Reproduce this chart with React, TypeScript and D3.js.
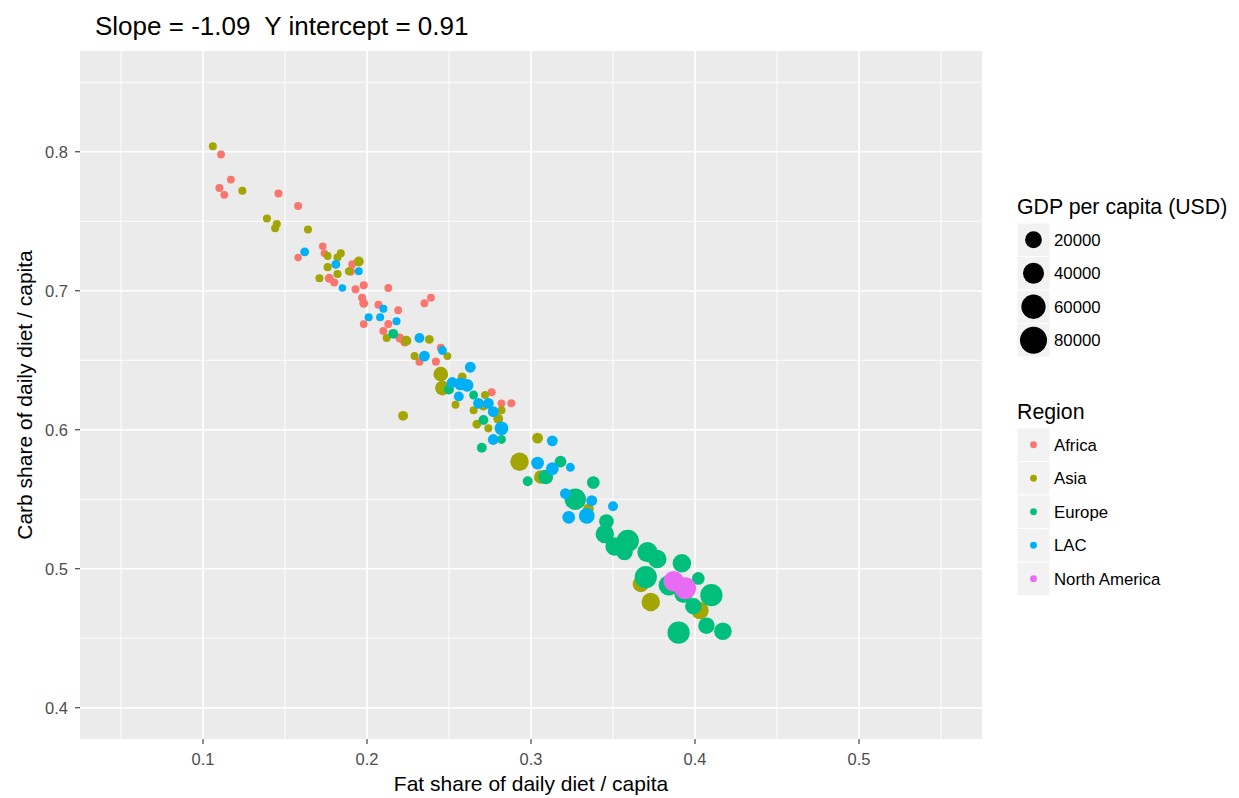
import React from "react";
import * as d3 from "d3";

// values
const africaFat = [0.111, 0.117, 0.110, 0.113, 0.146, 0.158, 0.158, 0.173, 0.174, 0.177, 0.180, 0.191, 0.190, 0.193, 0.198, 0.213, 0.197, 0.198, 0.207, 0.219, 0.235, 0.239, 0.198, 0.213, 0.210, 0.220, 0.223, 0.245, 0.232, 0.242, 0.276, 0.282, 0.288];
const africaCarb = [0.798, 0.780, 0.774, 0.769, 0.770, 0.761, 0.724, 0.732, 0.727, 0.709, 0.706, 0.719, 0.714, 0.701, 0.704, 0.702, 0.695, 0.691, 0.690, 0.686, 0.691, 0.695, 0.676, 0.676, 0.671, 0.666, 0.663, 0.659, 0.649, 0.649, 0.627, 0.619, 0.619];
const africaGdp = [300, 300, 400, 300, 400, 400, 150, 150, 150, 1080, 400, 400, 1000, 400, 400, 300, 400, 1000, 400, 300, 300, 300, 300, 400, 400, 1000, 1000, 400, 400, 400, 400, 300, 400];

const asiaFat = [0.106, 0.124, 0.139, 0.145, 0.144, 0.164, 0.176, 0.184, 0.182, 0.176, 0.182, 0.171, 0.195, 0.189, 0.212, 0.224, 0.238, 0.249, 0.229, 0.245, 0.246, 0.258, 0.254, 0.272, 0.265, 0.271, 0.282, 0.280, 0.267, 0.274, 0.222, 0.304, 0.293, 0.306, 0.335, 0.367, 0.373, 0.403];
const asiaCarb = [0.804, 0.772, 0.752, 0.748, 0.745, 0.744, 0.725, 0.727, 0.724, 0.717, 0.712, 0.709, 0.721, 0.714, 0.666, 0.664, 0.665, 0.653, 0.653, 0.640, 0.630, 0.638, 0.618, 0.625, 0.614, 0.617, 0.614, 0.608, 0.604, 0.601, 0.610, 0.594, 0.577, 0.566, 0.543, 0.489, 0.476, 0.470];
const asiaGdp = [400, 400, 400, 400, 400, 400, 300, 400, 400, 400, 400, 400, 2100, 400, 400, 2100, 1000, 300, 400, 12500, 12500, 1000, 300, 400, 400, 1000, 400, 2100, 1000, 400, 2100, 3500, 27000, 9700, 3500, 19000, 27000, 23000];

const europeFat = [0.216, 0.250, 0.265, 0.271, 0.270, 0.282, 0.298, 0.309, 0.318, 0.338, 0.327, 0.346, 0.345, 0.351, 0.359, 0.357, 0.371, 0.377, 0.370, 0.392, 0.384, 0.393, 0.402, 0.410, 0.399, 0.407, 0.417, 0.390];
const europeCarb = [0.669, 0.629, 0.625, 0.607, 0.587, 0.593, 0.563, 0.566, 0.577, 0.562, 0.550, 0.534, 0.525, 0.516, 0.520, 0.512, 0.512, 0.507, 0.494, 0.504, 0.488, 0.482, 0.493, 0.481, 0.473, 0.459, 0.455, 0.454];
const europeGdp = [2100, 2100, 1000, 2100, 2100, 1000, 2100, 12500, 5000, 7300, 42000, 12500, 27000, 27000, 47000, 19000, 36000, 27000, 47000, 27000, 36000, 27000, 7300, 47000, 19000, 19000, 23000, 47000];

const lacFat = [0.162, 0.181, 0.185, 0.195, 0.210, 0.208, 0.201, 0.218, 0.232, 0.246, 0.235, 0.263, 0.252, 0.257, 0.261, 0.256, 0.268, 0.274, 0.277, 0.282, 0.277, 0.313, 0.304, 0.313, 0.324, 0.321, 0.337, 0.350, 0.323, 0.334];
const lacCarb = [0.728, 0.719, 0.702, 0.714, 0.687, 0.681, 0.681, 0.678, 0.666, 0.657, 0.653, 0.645, 0.634, 0.633, 0.632, 0.624, 0.619, 0.619, 0.613, 0.601, 0.593, 0.592, 0.576, 0.572, 0.573, 0.554, 0.549, 0.545, 0.537, 0.538];
const lacGdp = [1000, 1000, 150, 300, 400, 400, 400, 400, 2100, 1000, 3500, 3500, 3500, 7300, 7300, 2100, 3500, 3500, 3500, 9700, 3500, 3500, 7300, 7300, 1000, 3500, 3500, 2100, 7300, 16000];

const naFat = [0.387, 0.394];
const naCarb = [0.491, 0.486];
const naGdp = [38000, 44000];

const regions = ["Africa", "Asia", "Europe", "LAC", "North America"];
const regionColors = ["#F8766D", "#A3A500", "#00BF7D", "#00B0F6", "#E76BF3"];
const sizeBreaks = [20000, 40000, 60000, 80000];
const xTicks = [0.1, 0.2, 0.3, 0.4, 0.5];
const yTicks = [0.4, 0.5, 0.6, 0.7, 0.8];
const xMinor = [0.05, 0.15, 0.25, 0.35, 0.45, 0.55];
const yMinor = [0.45, 0.55, 0.65, 0.75, 0.85];

const font = "'Liberation Sans', Arial, sans-serif";

const App = () => {
  const left = 80, right = 982, top = 51, bottom = 739;
  const x = d3.scaleLinear().domain([0.025, 0.575]).range([left, right]);
  const y = d3.scaleLinear().domain([0.3775, 0.8725]).range([bottom, top]);
  const r = d3.scaleSqrt().domain([0, 80000]).range([3.3, 13.5]);
  const color = d3.scaleOrdinal<string, string>().domain(regions).range(regionColors);

  const groups = [
    { region: "Africa", fat: africaFat, carb: africaCarb, gdp: africaGdp },
    { region: "Asia", fat: asiaFat, carb: asiaCarb, gdp: asiaGdp },
    { region: "Europe", fat: europeFat, carb: europeCarb, gdp: europeGdp },
    { region: "LAC", fat: lacFat, carb: lacCarb, gdp: lacGdp },
    { region: "North America", fat: naFat, carb: naCarb, gdp: naGdp },
  ];

  const keyX = 1017, keyW = 33, keyH = 33.5;
  const sizeTop = 223, regionTop = 428;

  return (
    <svg width={1239} height={798} style={{ position: "absolute", left: 0, top: 0, background: "#fff" }} fontFamily={font}>
      <rect x={left} y={top} width={right - left} height={bottom - top} fill="#EBEBEB" />
      {xMinor.map((t) => (
        <line key={"xm" + t} x1={x(t)} x2={x(t)} y1={top} y2={bottom} stroke="#fff" strokeWidth={0.9} />
      ))}
      {yMinor.map((t) => (
        <line key={"ym" + t} y1={y(t)} y2={y(t)} x1={left} x2={right} stroke="#fff" strokeWidth={0.9} />
      ))}
      {xTicks.map((t) => (
        <line key={"xg" + t} x1={x(t)} x2={x(t)} y1={top} y2={bottom} stroke="#fff" strokeWidth={1.7} />
      ))}
      {yTicks.map((t) => (
        <line key={"yg" + t} y1={y(t)} y2={y(t)} x1={left} x2={right} stroke="#fff" strokeWidth={1.7} />
      ))}

      {groups.map((g) => (
        <g key={g.region} fill={color(g.region)}>
          {g.fat.map((f, i) => (
            <circle key={i} cx={x(f)} cy={y(g.carb[i])} r={r(g.gdp[i])} />
          ))}
        </g>
      ))}

      {/* axes */}
      {xTicks.map((t) => (
        <g key={"xt" + t}>
          <line x1={x(t)} x2={x(t)} y1={bottom} y2={bottom + 5} stroke="#333" strokeWidth={1.1} />
          <text x={x(t)} y={765} textAnchor="middle" fontSize={16.5} fill="#4D4D4D">{t}</text>
        </g>
      ))}
      {yTicks.map((t) => (
        <g key={"yt" + t}>
          <line x1={left - 5} x2={left} y1={y(t)} y2={y(t)} stroke="#333" strokeWidth={1.1} />
          <text x={68} y={y(t) + 6} textAnchor="end" fontSize={16.5} fill="#4D4D4D">{t}</text>
        </g>
      ))}
      <text x={(left + right) / 2} y={791} textAnchor="middle" fontSize={21} fill="#000">Fat share of daily diet / capita</text>
      <text transform={`translate(32,${(top + bottom) / 2}) rotate(-90)`} textAnchor="middle" fontSize={21} fill="#000">Carb share of daily diet / capita</text>
      <text x={95} y={35} fontSize={26} fill="#000" style={{ whiteSpace: "pre" }}>{"Slope = -1.09  Y intercept = 0.91"}</text>

      {/* size legend */}
      <text x={keyX} y={214} fontSize={21.3} fill="#000">GDP per capita (USD)</text>
      {sizeBreaks.map((v, i) => (
        <g key={"s" + v}>
          <rect x={keyX} y={sizeTop + i * keyH} width={keyW} height={keyH} fill="#F2F2F2" stroke="#fff" strokeWidth={1} />
          <circle cx={keyX + keyW / 2} cy={sizeTop + i * keyH + keyH / 2} r={r(v)} fill="#000" />
          <text x={1054} y={sizeTop + i * keyH + keyH / 2 + 6} fontSize={16.8} fill="#000">{v}</text>
        </g>
      ))}

      {/* region legend */}
      <text x={keyX} y={419} fontSize={21.3} fill="#000">Region</text>
      {regions.map((reg, i) => (
        <g key={"r" + reg}>
          <rect x={keyX} y={regionTop + i * keyH} width={keyW} height={keyH} fill="#F2F2F2" stroke="#fff" strokeWidth={1} />
          <circle cx={keyX + keyW / 2} cy={regionTop + i * keyH + keyH / 2} r={3.4} fill={color(reg)} />
          <text x={1054} y={regionTop + i * keyH + keyH / 2 + 6} fontSize={16.8} fill="#000">{reg}</text>
        </g>
      ))}
    </svg>
  );
};

export default App;
